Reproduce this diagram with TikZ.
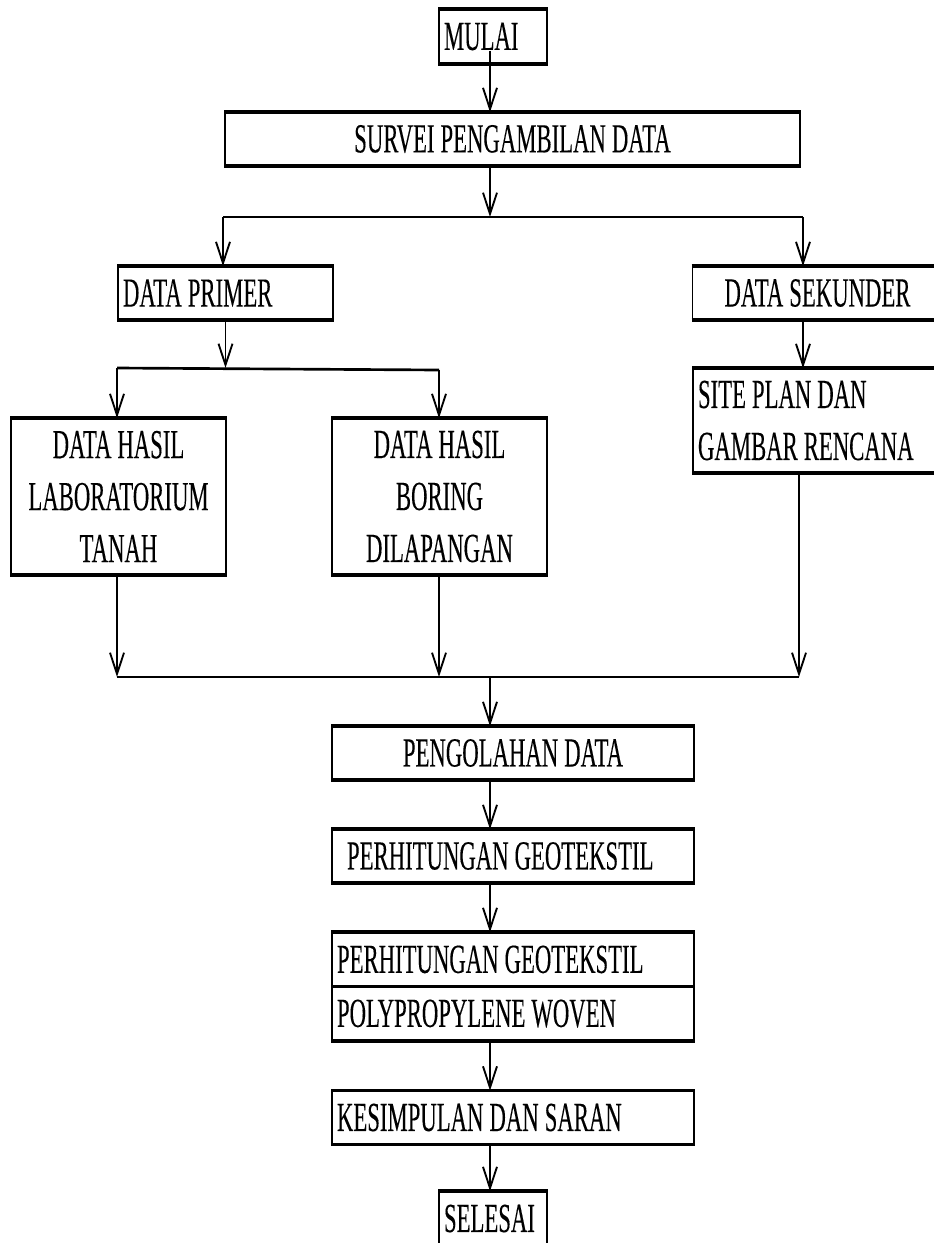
\documentclass[tikz,border=0pt]{standalone}
\usepackage{fontspec}
\setmainfont{Liberation Serif}[FakeStretch=0.55,FakeBold=0.2]
\usetikzlibrary{arrows.meta,calc}
\newcommand\boxfont{\fontsize{31}{39}\selectfont\spaceskip=4.5pt\relax}
\newcommand\ppfont{\fontsize{31}{40.5}\selectfont\spaceskip=4.5pt\relax}

\begin{document}
\begin{tikzpicture}[x=0.75pt,y=-0.75pt,
    box/.style={draw,line width=1.3pt,inner ysep=0pt,inner xsep=3.75pt,minimum height=39pt,font=\boxfont},
    edge/.style={line width=2.6pt},
    bus/.style={line width=2pt},
    arr/.style={-{Straight Barb[length=16pt,width=10.5pt]},line width=1.4pt}]
    \useasboundingbox (0,0) rectangle (933,1243);
    \node[box,text width=73.5pt,align=flush left,minimum height=39.75pt] (mulai) at (493,36.5) {MULAI};
    \node[box,text width=423.75pt,align=flush center] (survei) at (512.5,139) {SURVEI PENGAMBILAN DATA};
    \node[box,text width=153.75pt,align=flush left] (primer) at (225.5,293) {DATA PRIMER};
    \node[box,text width=180pt,align=flush center] (sekunder) at (817.5,293) {DATA SEKUNDER};
    \node[box,text width=153.75pt,align=flush center,minimum height=116.25pt] (lab) at (118.5,496.5) {DATA HASIL\\LABORATORIUM\\TANAH};
    \node[box,text width=153.75pt,align=flush center,minimum height=116.25pt] (boring) at (439.5,496.5) {DATA HASIL\\BORING\\DILAPANGAN};
    \node[box,text width=180pt,align=flush left,minimum height=77.25pt] (site) at (818,420.5) {SITE PLAN DAN\\GAMBAR RENCANA};
    \node[box,text width=264pt,align=flush center] (pengolahan) at (513,753) {PENGOLAHAN DATA};
    \node[box,text width=249pt,align=flush left,inner xsep=11.25pt] (hitung) at (513,856) {PERHITUNGAN GEOTEKSTIL};
    \node[box,text width=264pt,align=flush left,minimum height=80.25pt,font=\ppfont] (pp) at (513,986.5) {PERHITUNGAN GEOTEKSTIL\\POLYPROPYLENE WOVEN};
    \node[box,text width=264pt,align=flush left] (kes) at (513,1117.5) {KESIMPULAN DAN SARAN};
    \node[box,text width=73.5pt,align=flush left,minimum height=39.75pt] (selesai) at (493,1218.5) {SELESAI};
    \foreach \n in {mulai,survei,primer,sekunder,lab,boring,site,pengolahan,hitung,pp,kes,selesai}
        \draw[edge] (\n.north west) -- (\n.north east) (\n.south west) -- (\n.south east);
    \draw[edge] (pp.west) -- (pp.east);
    \coordinate (spine) at (490,0);
    \coordinate (b1l) at (223,217);
    \coordinate (b1r) at (803,217);
    \coordinate (b2l) at (117,368);
    \coordinate (b2r) at (439,370);
    \coordinate (b3l) at (117,677);
    \coordinate (b3r) at (799,677);
    \draw[bus] (b1l) -- (b1r);
    \draw[bus] (b2l) -- (b2r);
    \draw[bus] (b3l) -- (b3r);
    \draw[arr] ($(mulai.south -| spine)+(0,-13)$) -- (survei.north -| spine);
    \draw[arr] (survei.south -| spine) -- (b1l -| spine);
    \draw[arr] (b1l) -- (primer.north -| b1l);
    \draw[arr] (b1r) -- (sekunder.north -| b1r);
    \draw[arr] (primer.south) -- (primer.south |- b2l);
    \draw[arr] (b2l) -- (lab.north -| b2l);
    \draw[arr] (b2r) -- (boring.north -| b2r);
    \draw[arr] (sekunder.south -| b1r) -- (site.north -| b1r);
    \draw[arr] (lab.south -| b3l) -- (b3l);
    \draw[arr] (boring.south -| b2r) -- (b2r |- b3l);
    \draw[arr] (site.south -| b3r) -- (b3r);
    \draw[arr] (b3l -| spine) -- (pengolahan.north -| spine);
    \foreach \a/\b in {pengolahan/hitung,hitung/pp,pp/kes,kes/selesai}
        \draw[arr] (\a.south -| spine) -- (\b.north -| spine);
\end{tikzpicture}
\end{document}
